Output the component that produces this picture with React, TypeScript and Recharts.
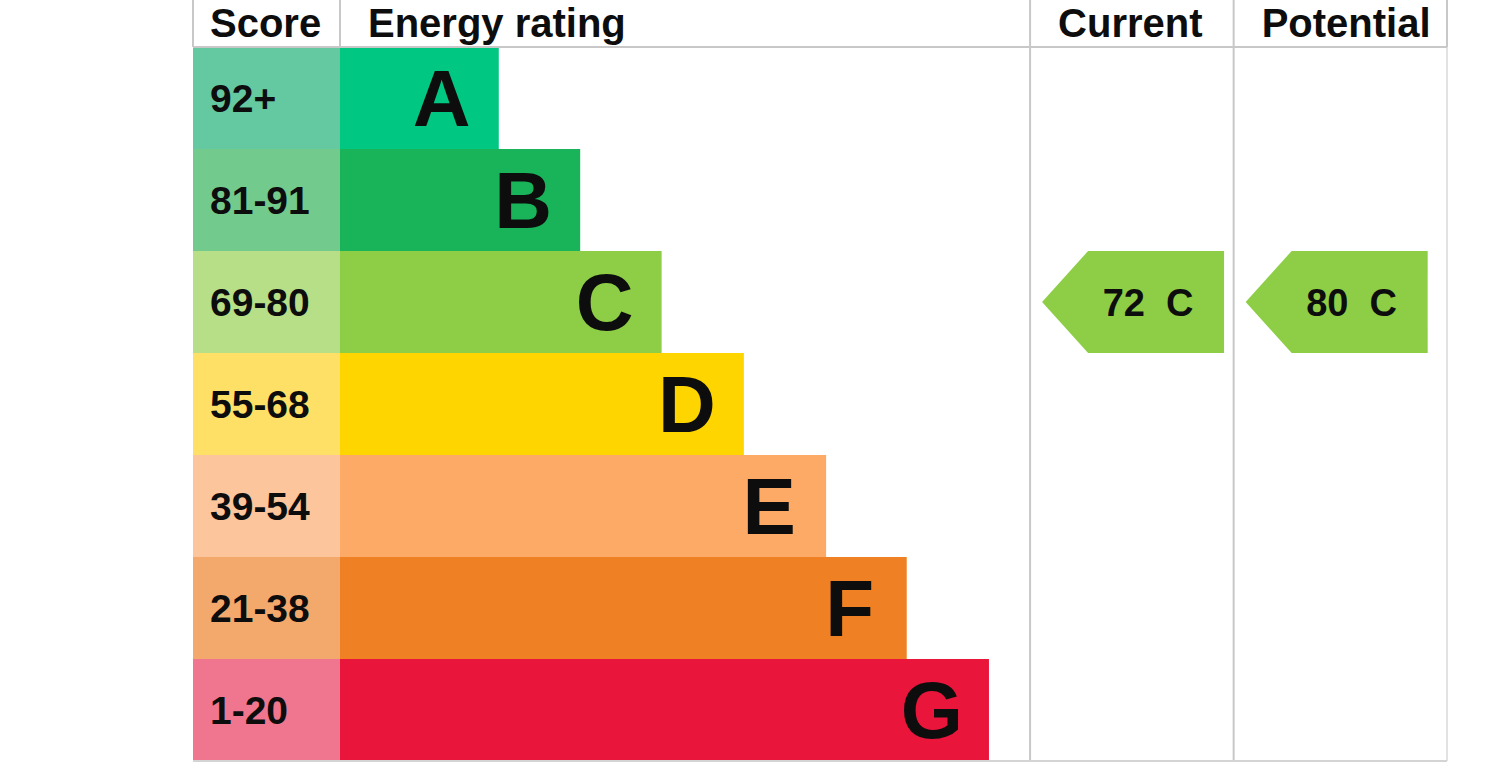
import React from 'react';
import { ComposedChart, Bar, XAxis, YAxis, Cell, LabelList, ReferenceLine, ReferenceArea } from 'recharts';

// energy bands, top to bottom
const bands = ['A', 'B', 'C', 'D', 'E', 'F', 'G'];
const scoreRanges = ['92+', '81-91', '69-80', '55-68', '39-54', '21-38', '1-20'];
const barLengths = [1.95, 2.95, 3.95, 4.96, 5.97, 6.96, 7.97];
const barColors = ['#00c781', '#19b459', '#8dce46', '#ffd500', '#fcaa65', '#ef8023', '#e9153b'];
const scoreColors = ['#64c8a0', '#72ca8d', '#b6df88', '#ffe066', '#fdc59b', '#f3a86c', '#f07690'];

const headers = ['Score', 'Energy rating', 'Current', 'Potential'];
const current = { score: 72, band: 'C' };
const potential = { score: 80, band: 'C' };

// column edges in axis units
const SCORE_END = 1.805;
const RATING_END = 10.28;
const CURRENT_END = 12.78;
const TOTAL = 15.4;
const columnTicks = [0, SCORE_END, RATING_END, CURRENT_END, TOTAL];

const FONT = '"Liberation Sans", Arial, sans-serif';
const LINE = '#c8c8c8';
const INK = '#0d0d0d';

const rows = bands.map((band, i) => ({ band, range: scoreRanges[i], length: barLengths[i] }));

const HeaderTick = (props: any) => {
  const { x, y, payload } = props;
  const i = columnTicks.indexOf(payload.value);
  if (i < 0 || i >= headers.length) return null;
  return (
    <text x={x + (i === 0 ? 17 : 28)} y={y + 37} fontFamily={FONT} fontWeight={700} fontSize={40} fill={INK}>
      {headers[i]}
    </text>
  );
};

const ScoreLabel = (props: any) => {
  const { x, y, height, value } = props;
  return (
    <text x={x + 17} y={y + height / 2 + 14} fontFamily={FONT} fontWeight={700} fontSize={39} fill={INK}>
      {value}
    </text>
  );
};

const LetterLabel = (props: any) => {
  const { x, y, width, height, value } = props;
  return (
    <text x={x + width - 57} y={y + height / 2 + 28} textAnchor="middle" fontFamily={FONT} fontWeight={700} fontSize={80} fill={INK}>
      {value}
    </text>
  );
};

const arrowShape = (rating: { score: number; band: string }) => (props: any) => {
  const { x, y, height } = props;
  const tip = x + 12;
  const end = tip + 182;
  const neck = tip + 46;
  const fill = barColors[bands.indexOf(rating.band)];
  return (
    <g>
      <polygon points={`${tip},${y + height / 2} ${neck},${y} ${end},${y} ${end},${y + height} ${neck},${y + height}`} fill={fill} />
      <text x={tip + 106} y={y + height / 2 + 14} textAnchor="middle" fontFamily={FONT} fontWeight={700} fontSize={38} fill={INK} style={{ whiteSpace: 'pre' }}>
        {`${rating.score}  ${rating.band}`}
      </text>
    </g>
  );
};

export default function App() {
  return (
    <div style={{ position: 'absolute', left: 0, top: 0, background: '#fff' }}>
      <ComposedChart
        width={1500}
        height={779}
        data={rows}
        layout="vertical"
        barCategoryGap={0}
        margin={{ top: 0, right: 53, bottom: 0, left: 193 }}
      >
        <XAxis
          xAxisId="top"
          type="number"
          orientation="top"
          domain={[0, TOTAL]}
          ticks={columnTicks}
          interval={0}
          height={47}
          tickSize={47}
          tickMargin={0}
          tick={<HeaderTick />}
          tickLine={{ stroke: LINE, strokeWidth: 2 }}
          axisLine={{ stroke: LINE, strokeWidth: 2 }}
        />
        <XAxis
          xAxisId="bottom"
          type="number"
          orientation="bottom"
          domain={[0, TOTAL]}
          height={18}
          tick={false}
          tickLine={false}
          axisLine={{ stroke: '#d4d4d4', strokeWidth: 2 }}
        />
        <YAxis type="category" dataKey="band" hide />
        <ReferenceLine xAxisId="top" x={RATING_END} stroke={LINE} strokeWidth={2} />
        <ReferenceLine xAxisId="top" x={CURRENT_END} stroke={LINE} strokeWidth={2} />
        <ReferenceLine xAxisId="top" x={TOTAL} stroke="#e2e2e2" strokeWidth={2} />
        <Bar xAxisId="top" dataKey={() => SCORE_END} stackId="r" isAnimationActive={false}>
          {rows.map((r, i) => (
            <Cell key={`s-${r.band}`} fill={scoreColors[i]} />
          ))}
          <LabelList dataKey="range" content={<ScoreLabel />} />
        </Bar>
        <Bar xAxisId="top" dataKey="length" stackId="r" isAnimationActive={false}>
          {rows.map((r, i) => (
            <Cell key={`b-${r.band}`} fill={barColors[i]} />
          ))}
          <LabelList dataKey="band" content={<LetterLabel />} />
        </Bar>
        <ReferenceArea
          xAxisId="top"
          x1={RATING_END}
          x2={CURRENT_END}
          y1={current.band}
          y2={current.band}
          shape={arrowShape(current)}
        />
        <ReferenceArea
          xAxisId="top"
          x1={CURRENT_END}
          x2={TOTAL}
          y1={potential.band}
          y2={potential.band}
          shape={arrowShape(potential)}
        />
      </ComposedChart>
    </div>
  );
}
